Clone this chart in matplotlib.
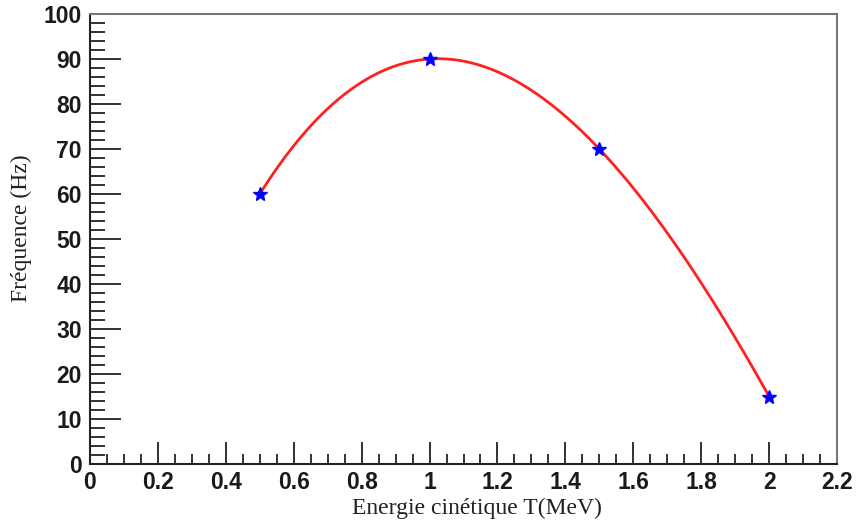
import numpy as np
import matplotlib
matplotlib.use("Agg")
import matplotlib.pyplot as plt
from matplotlib.ticker import MultipleLocator

# measured points (kinetic energy in MeV, frequency in Hz)
energie = [0.5, 1.0, 1.5, 2.0]
frequence = [60, 90, 70, 15]

x_ticks = [0, 0.2, 0.4, 0.6, 0.8, 1, 1.2, 1.4, 1.6, 1.8, 2, 2.2]
x_labels = ["0", "0.2", "0.4", "0.6", "0.8", "1", "1.2", "1.4", "1.6", "1.8", "2", "2.2"]
y_ticks = [0, 10, 20, 30, 40, 50, 60, 70, 80, 90, 100]

fig = plt.figure(figsize=(8.56, 5.22), dpi=100)
ax = fig.add_axes([90 / 856, 58 / 522, 747 / 856, 450 / 522])

# polynomial fit through the measured points (red curve)
coef = np.polyfit(energie, frequence, 3)
xf = np.linspace(min(energie), max(energie), 200)
ax.plot(xf, np.polyval(coef, xf), color="#ff2020", lw=2, zorder=2)
ax.plot(energie, frequence, linestyle="none", marker="*", color="#0000ff",
        markersize=10, zorder=3)

ax.set_xlim(0, 2.2)
ax.set_ylim(0, 100)
ax.set_xticks(x_ticks)
ax.set_xticklabels(x_labels)
ax.set_yticks(y_ticks)
ax.xaxis.set_minor_locator(MultipleLocator(0.05))
ax.yaxis.set_minor_locator(MultipleLocator(2))

ax.tick_params(which="both", direction="in", top=False, right=False, color="#222222")
ax.tick_params(axis="x", which="major", length=16, width=1.3, pad=5)
ax.tick_params(axis="x", which="minor", length=7, width=1.3)
ax.tick_params(axis="y", which="major", length=22, width=1.3, pad=6)
ax.tick_params(axis="y", which="minor", length=11, width=1.3)

for lab in ax.get_xticklabels() + ax.get_yticklabels():
    lab.set_family("Liberation Sans")
    lab.set_fontweight("bold")
    lab.set_fontsize(16.5)
    lab.set_color("#1a1a1a")

ax.spines["left"].set_color("#222222")
ax.spines["bottom"].set_color("#222222")
ax.spines["top"].set_color("#777777")
ax.spines["right"].set_color("#777777")
for s in ax.spines.values():
    s.set_linewidth(1.5)

ax.set_xlabel("Energie cinétique T(MeV)", family="Liberation Serif", fontsize=17,
              color="#222222", va="top")
ax.xaxis.set_label_coords(0.518, -0.075)
ax.set_ylabel("Fréquence (Hz)", family="Liberation Serif", fontsize=17,
              color="#222222", va="center", ha="center")
ax.yaxis.set_label_coords(-0.092, 0.524)

fig.savefig("out.png", dpi=100)
